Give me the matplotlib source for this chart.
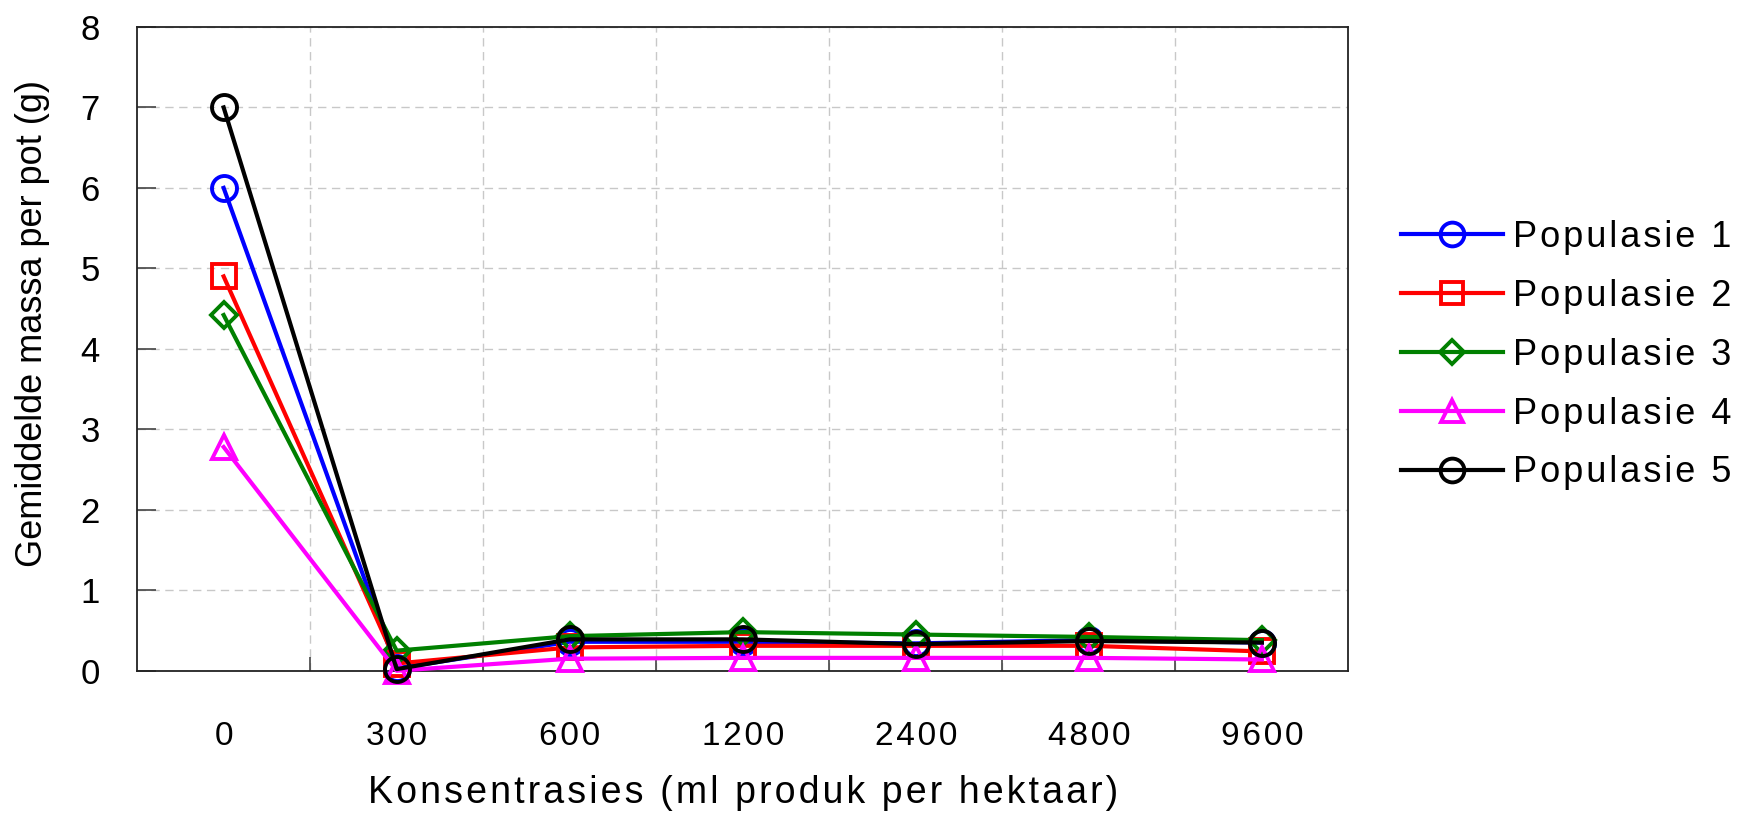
import numpy as np
import matplotlib.pyplot as plt
from matplotlib.ticker import FixedLocator

# data
konsentrasies = ['0', '300', '600', '1200', '2400', '4800', '9600']
pop1 = [6.00, 0.03, 0.36, 0.36, 0.34, 0.38, 0.35]
pop2 = [4.90, 0.09, 0.29, 0.31, 0.31, 0.31, 0.24]
pop3 = [4.42, 0.25, 0.43, 0.48, 0.45, 0.42, 0.38]
pop4 = [2.78, 0.00, 0.15, 0.16, 0.16, 0.16, 0.14]
pop5 = [7.00, 0.02, 0.39, 0.39, 0.33, 0.37, 0.35]
labels = ['Populasie 1', 'Populasie 2', 'Populasie 3', 'Populasie 4', 'Populasie 5']

plt.rcParams['font.family'] = ['Liberation Sans', 'DejaVu Sans']


def spaced(s, n=1):
    # the original uses wide letter spacing, fake it with hair spaces
    return ('\u200a' * n).join(s)


fig = plt.figure(figsize=(17.58, 8.16), dpi=100)
ax = fig.add_axes([0.078, 0.178, 0.689, 0.789])

x = np.arange(len(konsentrasies))
series = [pop1, pop2, pop3, pop4, pop5]
colours = ['#0000ff', '#ff0000', '#008000', '#ff00ff', '#000000']
markers = ['o', 's', 'D', '^', 'o']
sizes = [18, 17, 13, 17, 18]

for vals, c, m, ms, lab in zip(series, colours, markers, sizes, labels):
    ax.plot(x, vals, color=c, marker=m, markersize=ms, markerfacecolor='none',
            markeredgecolor=c, markeredgewidth=2.8, linewidth=3.0, label=spaced(lab),
            clip_on=False, zorder=3)

ax.set_xlim(-0.5, len(konsentrasies) - 0.5)
ax.set_ylim(0, 8)

# category labels without ticks, ticks + grid between categories
ax.set_xticks(x)
ax.set_xticklabels([spaced(k) for k in konsentrasies], fontsize=24)
ax.xaxis.set_minor_locator(FixedLocator(x[:-1] + 0.5))
ax.tick_params(axis='x', which='major', length=0, pad=36)
ax.tick_params(axis='x', which='minor', direction='in', length=10, width=1.2, color='#444444')
ax.set_yticks(range(0, 9))
ax.tick_params(axis='y', direction='in', length=14, width=1.2, color='#444444', labelsize=25, pad=27)

ax.grid(True, which='minor', axis='x', linestyle=(0, (6, 4)), color='#c8c8c8', linewidth=1)
ax.grid(True, which='major', axis='y', linestyle=(0, (6, 4)), color='#c8c8c8', linewidth=1)
ax.set_axisbelow(True)

for s in ax.spines.values():
    s.set_linewidth(1.3)
    s.set_color('#222222')

ax.set_xlabel(spaced('Konsentrasies (ml produk per hektaar)'), fontsize=27, labelpad=17)
ax.set_ylabel('Gemiddelde massa per pot (g)', fontsize=26)
ax.yaxis.set_label_coords(-0.072, 0.54)

ax.legend(loc='center left', bbox_to_anchor=(1.017, 0.49), frameon=False, fontsize=26,
          handlelength=2.8, labelspacing=0.66, handletextpad=0.3, markerscale=0.95)

fig.savefig('out.png', dpi=100)
